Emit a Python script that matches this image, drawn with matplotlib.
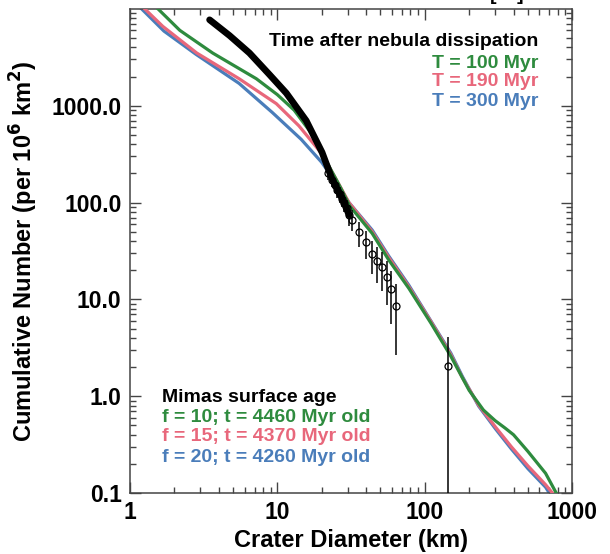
import numpy as np
import matplotlib
matplotlib.use('Agg')
import matplotlib.pyplot as plt
from matplotlib.ticker import LogLocator, FuncFormatter, NullFormatter

plt.rcParams['font.family'] = ['Liberation Sans', 'DejaVu Sans']
plt.rcParams['font.weight'] = 'bold'

# model curves (crater diameter km, cumulative number per 1e6 km^2)
d_t100 = [1.55, 2.18, 3.64, 7.2, 10, 13, 17, 22, 27, 31, 44, 57, 78, 110, 150, 200, 250, 300, 350, 400, 500, 660, 780]
n_t100 = [10000, 6000, 3500, 1900, 1300, 900, 520, 250, 140, 92, 48, 25.5, 13, 5.7, 2.6, 1.15, 0.72, 0.56, 0.47, 0.40, 0.27, 0.16, 0.1]

d_t190 = [1.26, 1.67, 2.84, 5.5, 9.84, 14, 20, 25, 30.6, 44, 57, 78, 110, 150, 180, 232, 302, 387, 502, 660, 735]
n_t190 = [10000, 6600, 3500, 1900, 1050, 620, 320, 175, 100, 50, 27, 13.5, 5.9, 2.7, 1.55, 0.81, 0.48, 0.30, 0.19, 0.122, 0.1]

d_t300 = [1.2, 1.7, 2.8, 5.5, 9.25, 14.5, 20, 25, 30.6, 44, 57, 78, 110, 150, 180, 232, 302, 387, 502, 660, 700]
n_t300 = [10000, 5900, 3400, 1700, 850, 450, 260, 160, 100, 52, 28, 14, 6.0, 2.8, 1.6, 0.79, 0.46, 0.285, 0.178, 0.115, 0.1]

# Mimas crater counts
d_obs_line = [3.47, 4.74, 6.47, 8.83, 11.5, 15.7, 20.1, 23.5, 27.5, 30.6]
n_obs_line = [7710, 5300, 3500, 2100, 1350, 700, 330, 175, 110, 75]

d_obs = [22, 23.5, 24.5, 25.5, 26.5, 27.5, 28.5, 29.5, 30.6, 32.1, 35.8, 39.9, 43.9, 47.4, 51.2, 55.5, 58.9, 63.7, 143]
n_obs = [200, 172, 150, 136, 122, 110, 99, 88, 75, 66.8, 49.1, 38.7, 29.1, 24.7, 21.4, 16.9, 12.7, 8.47, 2.04]
e_obs = [28.3, 26.2, 24.5, 23.3, 22.1, 21, 19.9, 18.8, 17.3, 16.3, 14, 12.4, 10.8, 9.9, 9.3, 8.2, 7.1, 5.8, 2.03]

green = '#2e8b3e'
pink = '#e8677b'
blue = '#4a7dba'

fig = plt.figure(figsize=(6.1, 5.54), dpi=100)
ax = fig.add_axes([0.213, 0.110, 0.725, 0.874])

ax.plot(d_t300, n_t300, color=blue, lw=2.3, zorder=2)
ax.plot(d_t190, n_t190, color=pink, lw=2.3, zorder=3)
ax.plot(d_t100, n_t100, color=green, lw=2.3, zorder=4)

ax.plot(d_obs_line, n_obs_line, color='black', lw=4.8, solid_capstyle='round', zorder=5)
ax.errorbar(d_obs, n_obs, yerr=e_obs, fmt='o', ms=5, mfc='none', mec='black', mew=0.9,
            ecolor='black', elinewidth=1.1, capsize=0, zorder=6)

ax.set_xscale('log')
ax.set_yscale('log')
ax.set_xlim(1, 1000)
ax.set_ylim(0.1, 10000)

ax.set_xticks([1, 10, 100, 1000])
ax.set_xticklabels(['1', '10', '100', '1000'])
ax.set_yticks([0.1, 1, 10, 100, 1000])
ax.yaxis.set_major_formatter(FuncFormatter(lambda v, p: '%.1f' % v))
ax.xaxis.set_minor_locator(LogLocator(base=10, subs=np.arange(2, 10)))
ax.yaxis.set_minor_locator(LogLocator(base=10, subs=np.arange(2, 10)))
ax.xaxis.set_minor_formatter(NullFormatter())
ax.yaxis.set_minor_formatter(NullFormatter())

ax.tick_params(which='both', direction='in', top=True, right=True, color='#444444', width=1.0)
ax.tick_params(which='major', length=8, labelsize=16.5, pad=6)
ax.tick_params(which='minor', length=4.5)
for s in ax.spines.values():
    s.set_color('#444444')
    s.set_linewidth(1.1)

ax.set_xlabel('Crater Diameter (km)', fontsize=17, fontweight='bold', labelpad=3)
ax.set_ylabel('Cumulative Number (per 10$^\\mathbf{6}$ km$^\\mathbf{2}$)', fontsize=17,
              fontweight='bold', labelpad=8)

ax.text(0.923, 0.932, 'Time after nebula dissipation', transform=ax.transAxes,
        ha='right', va='center', fontsize=14, fontweight='bold', color='black')
ax.text(0.923, 0.888, 'T = 100 Myr', transform=ax.transAxes,
        ha='right', va='center', fontsize=14, fontweight='bold', color=green)
ax.text(0.923, 0.849, 'T = 190 Myr', transform=ax.transAxes,
        ha='right', va='center', fontsize=14, fontweight='bold', color=pink)
ax.text(0.923, 0.808, 'T = 300 Myr', transform=ax.transAxes,
        ha='right', va='center', fontsize=14, fontweight='bold', color=blue)

ax.text(0.072, 0.198, 'Mimas surface age', transform=ax.transAxes,
        ha='left', va='center', fontsize=14, fontweight='bold', color='black')
ax.text(0.072, 0.157, 'f = 10; t = 4460 Myr old', transform=ax.transAxes,
        ha='left', va='center', fontsize=14, fontweight='bold', color=green)
ax.text(0.072, 0.116, 'f = 15; t = 4370 Myr old', transform=ax.transAxes,
        ha='left', va='center', fontsize=14, fontweight='bold', color=pink)
ax.text(0.072, 0.074, 'f = 20; t = 4260 Myr old', transform=ax.transAxes,
        ha='left', va='center', fontsize=14, fontweight='bold', color=blue)

# reference mark cut off by the top edge, as in the source image
fig.text(0.831, 1.0, '[25]', ha='center', va='baseline', fontsize=14, color='black')

fig.savefig('out.png', dpi=100)
